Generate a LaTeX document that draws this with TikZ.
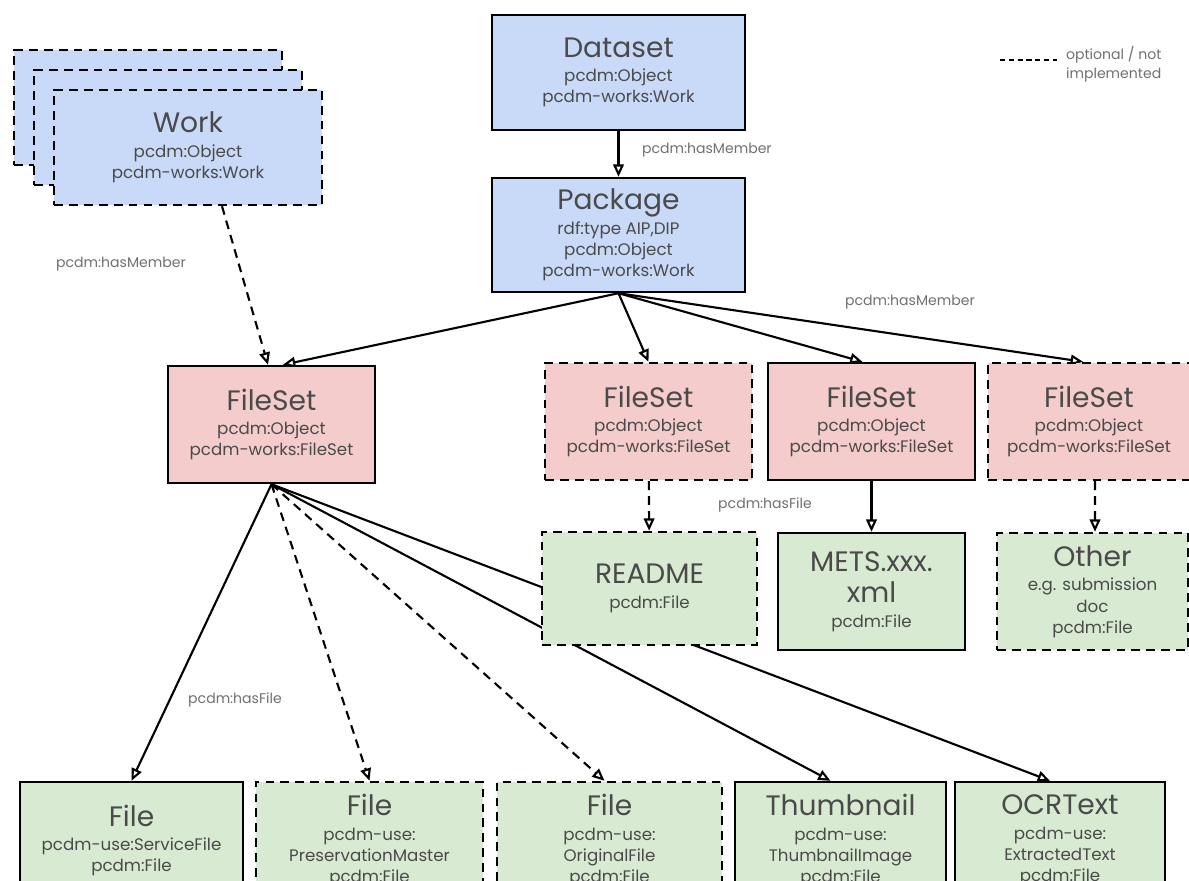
\documentclass[tikz,border=0pt]{standalone}
\usepackage{fontspec}
\setmainfont{Poppins}
\usetikzlibrary{arrows.meta, backgrounds}

\definecolor{workblue}{HTML}{C9DAF8}
\definecolor{setred}{HTML}{F4CCCC}
\definecolor{filegreen}{HTML}{D9EAD3}
\definecolor{textgray}{HTML}{4A4A4A}
\definecolor{labelgray}{HTML}{707070}

\newcommand{\ttl}[1]{{\fontsize{16}{19}\selectfont #1}\\[2pt]}

\tikzset{
  box/.style={draw=black, line width=1.4pt, align=center, text=textgray, inner sep=2pt,
    font=\fontsize{9.5}{12}\selectfont, minimum width=4.14cm, minimum height=2.34cm},
  optbox/.style={box, dash pattern=on 5pt off 3.5pt},
  work/.style={fill=workblue},
  fileset/.style={fill=setred},
  file/.style={fill=filegreen},
  link/.style={-{Triangle[open, length=7pt, width=6pt]}, line width=1.2pt},
  optlink/.style={link, dash pattern=on 5pt off 3.5pt},
  lbl/.style={text=labelgray, font=\fontsize{8}{11}\selectfont, inner sep=1pt}
}

\begin{document}
\begin{tikzpicture}
\path[use as bounding box, clip] (0, 0) rectangle (23.78, 17.6);

\node[optbox, work, minimum width=5.36cm, minimum height=2.3cm] (workA) at (2.96, 15.45) {};
\node[optbox, work, minimum width=5.36cm, minimum height=2.3cm] (workB) at (3.36, 15.05) {};
\node[optbox, work, minimum width=5.36cm, minimum height=2.3cm] (workC) at (3.76, 14.65) {\ttl{Work}pcdm:Object\\pcdm-works:Work};

\node[box, work, minimum width=5.06cm, minimum height=2.3cm] (dataset) at (12.37, 16.15) {\ttl{Dataset}pcdm:Object\\pcdm-works:Work};
\node[box, work, minimum width=5.06cm, minimum height=2.28cm] (package) at (12.37, 12.9) {\ttl{Package}rdf:type AIP,DIP\\pcdm:Object\\pcdm-works:Work};

\node[box, fileset] (fsA) at (5.43, 9.11) {\ttl{FileSet}pcdm:Object\\pcdm-works:FileSet};
\node[optbox, fileset] (fsB) at (12.97, 9.17) {\ttl{FileSet}pcdm:Object\\pcdm-works:FileSet};
\node[box, fileset] (fsC) at (17.43, 9.17) {\ttl{FileSet}pcdm:Object\\pcdm-works:FileSet};
\node[optbox, fileset, minimum width=4.04cm] (fsD) at (21.78, 9.17) {\ttl{FileSet}pcdm:Object\\pcdm-works:FileSet};

\node[optbox, file, minimum width=4.3cm, minimum height=2.26cm] (readme) at (12.99, 5.83) {\ttl{README}pcdm:File};
\node[box, file, minimum width=3.74cm] (mets) at (17.43, 5.77) {{\fontsize{16}{19}\selectfont METS.xxx.}\\[6pt]\ttl{xml}pcdm:File};
\node[optbox, file, minimum width=3.82cm] (other) at (21.85, 5.77) {\ttl{Other}e.g. submission\\doc\\pcdm:File};

\node[box, file, minimum width=4.46cm] (file1) at (2.63, 0.79) {\ttl{File}pcdm-use:ServiceFile\\pcdm:File};
\node[optbox, file, minimum width=4.54cm] (file2) at (7.39, 0.79) {\ttl{File}pcdm-use:\\PreservationMaster\\pcdm:File};
\node[optbox, file, minimum width=4.5cm] (file3) at (12.19, 0.79) {\ttl{File}pcdm-use:\\OriginalFile\\pcdm:File};
\node[box, file, minimum width=4.22cm] (thumb) at (16.81, 0.79) {\ttl{Thumbnail}pcdm-use:\\ThumbnailImage\\pcdm:File};
\node[box, file, minimum width=4.2cm] (ocr) at (21.2, 0.79) {\ttl{OCRText}pcdm-use:\\ExtractedText\\pcdm:File};

\begin{scope}[on background layer]
\draw[link] (dataset) -- (package);
\draw[optlink] ([xshift=0.68cm]workC.south) -- ([xshift=-0.07cm]fsA.north);
\draw[link] (package.south) -- ([xshift=0.23cm]fsA.north);
\draw[link] (package.south) -- (fsB.north);
\draw[link] (package.south) -- ([xshift=-0.18cm]fsC.north);
\draw[link] (package.south) -- ([xshift=-0.12cm]fsD.north);
\draw[optlink] (fsB) -- (readme);
\draw[link] (fsC) -- (mets);
\draw[optlink] ([xshift=0.12cm]fsD.south) -- ([xshift=0.05cm]other.north);
\draw[link] (fsA.south) -- (file1.north);
\draw[optlink] (fsA.south) -- (file2.north);
\draw[optlink] (fsA.south) -- ([xshift=-0.1cm]file3.north);
\draw[link] (fsA.south) -- ([xshift=-0.2cm]thumb.north);
\draw[link] (fsA.south) -- ([xshift=-0.2cm]ocr.north);
\end{scope}

\node[lbl, anchor=west] (lblds) at (12.8, 14.6) {pcdm:hasMember};
\node[lbl] (lblwork) at (2.42, 12.32) {pcdm:hasMember};
\node[lbl] (lblpkg) at (18.2, 11.56) {pcdm:hasMember};
\node[lbl] (lblmets) at (15.3, 7.5) {pcdm:hasFile};
\node[lbl] (lblfs) at (4.7, 3.6) {pcdm:hasFile};

\coordinate (legA) at (20.0, 16.4);
\coordinate (legB) at (21.14, 16.4);
\draw[line width=0.8pt, dash pattern=on 3pt off 2pt] (legA) -- (legB);
\node[lbl, anchor=north west, align=left] (legtext) at (21.28, 16.72) {optional / not\\implemented};
\end{tikzpicture}
\end{document}
